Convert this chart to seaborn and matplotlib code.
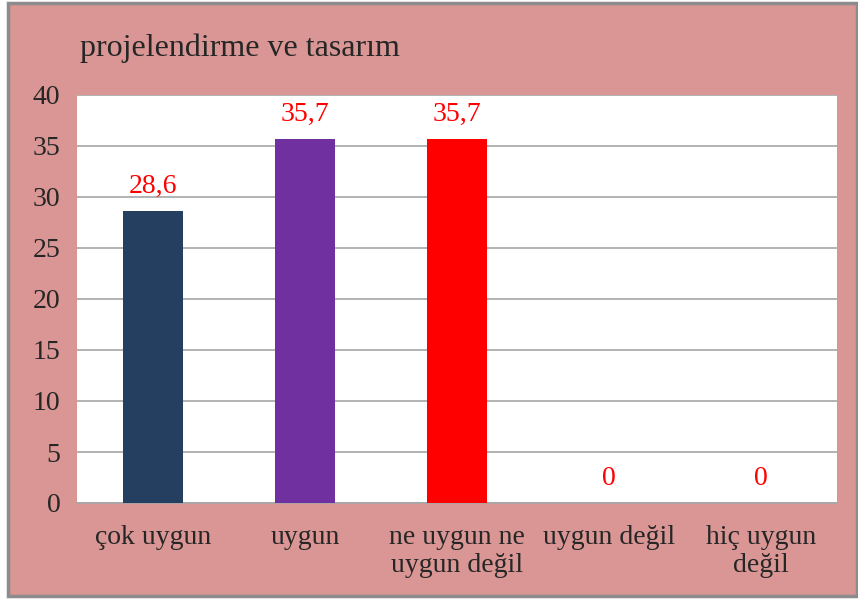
import matplotlib.pyplot as plt
import seaborn as sns
import pandas as pd
from matplotlib.patches import Rectangle

categories = ["çok uygun", "uygun", "ne uygun ne\nuygun değil", "uygun değil", "hiç uygun\ndeğil"]
values = [28.6, 35.7, 35.7, 0, 0]
labels = ["28,6", "35,7", "35,7", "0", "0"]
colors = ["#243F60", "#7030A0", "#FF0000", "#4F81BD", "#4F81BD"]

df = pd.DataFrame({"kategori": categories, "deger": values})

sns.set_style("white")
plt.rcParams["font.family"] = ["Liberation Serif", "DejaVu Serif"]

fig = plt.figure(figsize=(8.58, 5.99), dpi=100)
fig.patch.set_facecolor("white")
# pink chart area with gray frame
fig.patches.append(Rectangle((8 / 858, 3 / 599), 849 / 858, 593 / 599,
                             transform=fig.transFigure, facecolor="#D99694",
                             edgecolor="#8C8C8C", linewidth=2.5, zorder=-5))

ax = fig.add_axes([77 / 858, 1 - 503 / 599, 760 / 858, 408 / 599])
ax.set_zorder(2)
ax.set_facecolor("white")

sns.barplot(data=df, x="kategori", y="deger", hue="kategori", palette=colors,
            legend=False, width=0.39, saturation=1, linewidth=0, ax=ax, zorder=3)

ax.set_ylim(0, 40)
ax.set_yticks(range(0, 41, 5))
ax.set_xlim(-0.5, 4.5)
ax.grid(axis="y", color="#A6A6A6", linewidth=1.2, zorder=0)
ax.set_axisbelow(True)

for s in ["top", "right", "left"]:
    ax.spines[s].set_visible(False)
ax.spines["bottom"].set_color("#A6A6A6")
ax.spines["bottom"].set_linewidth(1.2)

ax.set_xlabel("")
ax.set_ylabel("")
ax.tick_params(axis="y", length=6, color="#A6A6A6", labelsize=20, pad=6)
ax.set_xticks([-0.5, 0.5, 1.5, 2.5, 3.5, 4.5])
ax.set_xticklabels([])
ax.tick_params(axis="x", length=6, color="#A6A6A6")
for i, c in enumerate(categories):
    ax.text(i, -2.2, c, ha="center", va="top", fontsize=20, linespacing=1.15)

for i, (v, lab) in enumerate(zip(values, labels)):
    ax.text(i, v + 1.2, lab, ha="center", va="bottom", color="#FF0000", fontsize=20)

fig.text(80 / 858, 1 - 48 / 599, "projelendirme ve tasarım", ha="left", va="center", fontsize=23)

fig.savefig("out.png", dpi=100)
